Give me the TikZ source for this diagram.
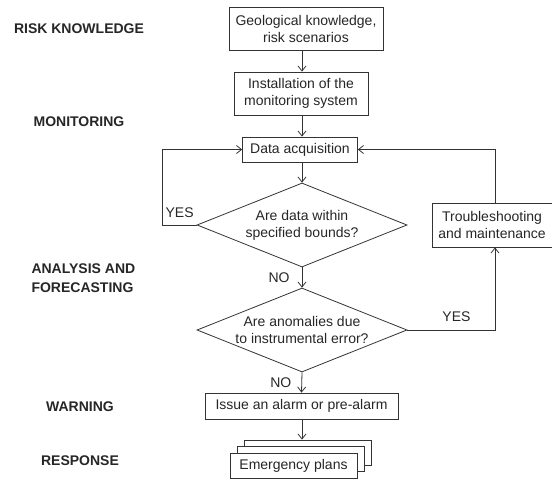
\documentclass[tikz,border=0pt]{standalone}
\usepackage{fontspec}
\setmainfont{Liberation Sans}
\usetikzlibrary{arrows.meta}
\usetikzlibrary{shapes.geometric}

\begin{document}
\begin{tikzpicture}[x=1pt, y=-1pt,
    every node/.style={font=\fontsize{14}{17}\selectfont, text=black!85},
    box/.style={draw=black!80, line width=0.8pt, fill=white, inner sep=0pt, align=center},
    sheet/.style={box, minimum width=127pt, minimum height=25pt},
    decision/.style={draw=black!80, line width=0.8pt, shape=diamond, aspect=2.5, inner sep=0pt,
      align=center, minimum width=210pt, minimum height=84pt},
    stage/.style={font=\bfseries\fontsize{14}{18.5}\selectfont, align=left},
    lbl/.style={inner sep=0pt},
    arr/.style={draw=black!80, line width=0.8pt, -{Straight Barb[length=5pt,width=8pt]}}]
  \useasboundingbox (0,0) rectangle (552,481);
  \coordinate (axis) at (302,0);

  % stages
  \node[stage] (risk) at (79,29) {RISK KNOWLEDGE};
  \node[stage] (monitor) at (79,122) {MONITORING};
  \node[stage, anchor=west] (analysis) at (28,278) {ANALYSIS AND\\FORECASTING};
  \node[stage] (warning) at (80,407) {WARNING};
  \node[stage] (response) at (80,460.5) {RESPONSE};

  % flow chart
  \node[box, minimum width=154pt, minimum height=43pt] (geo) at (306,28.5) {Geological knowledge,\\risk scenarios};
  \node[box, minimum width=134pt, minimum height=43pt] (install) at (301,93.5) {Installation of the\\monitoring system};
  \node[box, minimum width=115pt, minimum height=25pt] (data) at (300,149.5) {Data acquisition};
  \node[decision] (bounds) at (302,225) {Are data within\\specified bounds?};
  \node[decision] (instr) at (302,330) {Are anomalies due\\to instrumental error?};
  \node[box, minimum width=120pt, minimum height=44pt] (trouble) at (492,225) {Troubleshooting\\and maintenance};
  \node[box, minimum width=193pt, minimum height=26pt] (alarm) at (301.5,406) {Issue an alarm or pre-alarm};
  \node[sheet] (plans3) at (308,452.5) {};
  \node[sheet] (plans2) at (301,459) {};
  \node[sheet] (plans) at (293.5,465.5) {Emergency plans};

  \draw[arr] (geo.south -| axis) -- (install.north -| axis);
  \draw[arr] (install.south -| axis) -- (data.north -| axis);
  \draw[arr] (data.south -| axis) -- (bounds.north);
  \draw[arr] (bounds.west) -- node[lbl, above=7pt] {YES} ++(-34,0) |- (data.west);
  \draw[arr] (bounds.south) -- node[lbl, left=12pt] {NO} (instr.north);
  \draw[arr] (instr.east) -| node[lbl, above=8pt, pos=0.28] {YES} ([xshift=3pt]trouble.south);
  \draw[arr] ([xshift=3pt]trouble.north) |- (data.east);
  \draw[arr] (instr.south) -- node[lbl, left=10pt] {NO} (alarm.north);
  \draw[arr] (alarm.south -| axis) -- (plans3.north -| axis);
\end{tikzpicture}
\end{document}
